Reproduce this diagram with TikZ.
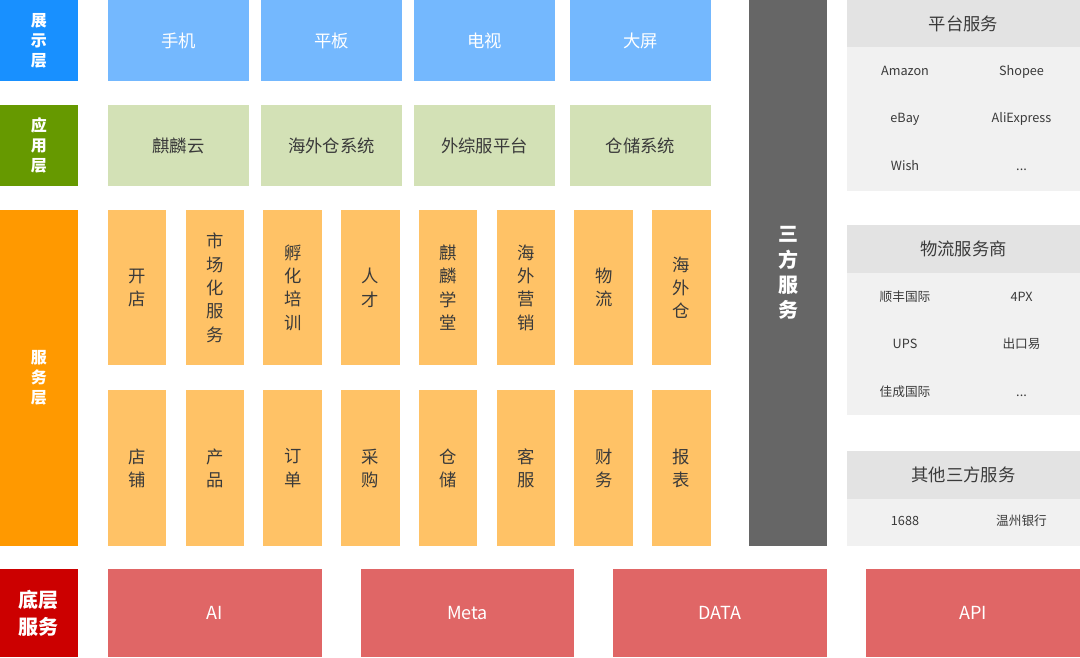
\documentclass[tikz,border=0pt]{standalone}
\usepackage{fontspec}
\setmainfont{Noto Sans CJK SC}
\usetikzlibrary{positioning}

\definecolor{showdark}{HTML}{1890FF}
\definecolor{showlight}{HTML}{74B8FE}
\definecolor{appdark}{HTML}{669900}
\definecolor{applight}{HTML}{D3E1B6}
\definecolor{svcdark}{HTML}{FF9900}
\definecolor{svclight}{HTML}{FFC266}
\definecolor{basedark}{HTML}{CC0000}
\definecolor{baselight}{HTML}{E06666}
\definecolor{thirdgray}{HTML}{666666}
\definecolor{panelhead}{HTML}{E3E3E3}
\definecolor{panelbody}{HTML}{F1F1F1}
\definecolor{txt}{HTML}{3A3A3A}

\begin{document}
\begin{tikzpicture}[
    x=0.75pt, y=-0.75pt,
    box/.style={rectangle, inner sep=0pt, outer sep=0pt, align=center},
    wh/.style 2 args={minimum width=#1*0.75pt, minimum height=#2*0.75pt},
    layer/.style={box, text=white, font=\bfseries\fontsize{12pt}{15pt}\selectfont},
    showbox/.style={box, fill=showlight, text=white, font=\fontsize{13pt}{16pt}\selectfont, wh={141}{81}},
    appbox/.style={box, fill=applight, text=txt, font=\fontsize{13pt}{16pt}\selectfont, wh={141}{81}},
    svcbox/.style={box, fill=svclight, text=txt, font=\fontsize{13pt}{17.5pt}\selectfont, wh={58.5}{155.5}},
    basebox/.style={box, fill=baselight, text=white, font=\fontsize{13.5pt}{16pt}\selectfont, wh={213.5}{88}},
    head/.style={box, fill=panelhead, text=txt, font=\fontsize{13pt}{16pt}\selectfont, minimum width=175pt, minimum height=35.5pt},
    item/.style={text=txt, inner sep=0pt, text height=7pt, text depth=2pt, font=\fontsize{9.5pt}{12pt}\selectfont}
]
\useasboundingbox (0,0) rectangle (1080,657);

% Layer labels
\node[layer, fill=showdark, wh={78}{81}] (lshow) at (39,40.5) {展\\示\\层};
\node[layer, fill=appdark, wh={78}{81}] (lapp) at (39,145.5) {应\\用\\层};
\node[layer, fill=svcdark, wh={78}{336}] (lsvc) at (39,378) {服\\务\\层};
\node[layer, fill=basedark, wh={77.5}{88}, font=\bfseries\fontsize{15pt}{20pt}\selectfont] (lbase) at (38.75,613) {底层\\服务};

% Display layer
\node[showbox] (phone) at (178.5,40.5) {手机};
\node[showbox] (tablet) at (331.5,40.5) {平板};
\node[showbox] (tv) at (484.5,40.5) {电视};
\node[showbox] (screen) at (640.5,40.5) {大屏};

% Application layer
\node[appbox] (qilin) at (178.5,145.5) {麒麟云};
\node[appbox] (owms) at (331.5,145.5) {海外仓系统};
\node[appbox] (wzf) at (484.5,145.5) {外综服平台};
\node[appbox] (wms) at (640.5,145.5) {仓储系统};

% Service layer
\foreach \t [count=\i from 0] in {开\\店, 市\\场\\化\\服\\务, 孵\\化\\培\\训, 人\\才, 麒\\麟\\学\\堂, 海\\外\\营\\销, 物\\流, 海\\外\\仓}
    \node[svcbox] (svctop\i) at (137.2+77.75*\i,287.7) {\t};
\foreach \t [count=\i from 0] in {店\\铺, 产\\品, 订\\单, 采\\购, 仓\\储, 客\\服, 财\\务, 报\\表}
    \node[svcbox] (svcbot\i) at (137.2+77.75*\i,468.2) {\t};

% Third-party column
\node[box, fill=thirdgray, text=white, wh={78}{546}, font=\bfseries\fontsize{15pt}{19pt}\selectfont] (third) at (788,273) {三\\方\\服\\务};

% Platform services
\node[head] (plathead) at (963.4,23.8) {平台服务};
\node[box, fill=panelbody, minimum width=175pt, minimum height=107.5pt, below=0pt of plathead] (platbody) {};
\node[item] (amazon) at (905,72) {Amazon};
\node[item] (shopee) at (1021.5,72) {Shopee};
\node[item] (ebay) at (905,119.5) {eBay};
\node[item] (aliexp) at (1021.5,119.5) {AliExpress};
\node[item] (wish) at (905,167) {Wish};
\node[item] (platmore) at (1021.5,167) {...};

% Logistics providers
\node[head] (loghead) at (963.4,249) {物流服务商};
\node[box, fill=panelbody, minimum width=175pt, minimum height=107pt, below=0pt of loghead] (logbody) {};
\node[item] (sf) at (905,298) {顺丰国际};
\node[item] (fourpx) at (1021.5,298) {4PX};
\node[item] (ups) at (905,345.5) {UPS};
\node[item] (cky) at (1021.5,345.5) {出口易};
\node[item] (jc) at (905,393) {佳成国际};
\node[item] (logmore) at (1021.5,393) {...};

% Other third-party services
\node[head] (othhead) at (963.4,475) {其他三方服务};
\node[box, fill=panelbody, minimum width=175pt, minimum height=35.5pt, below=0pt of othhead] (othbody) {};
\node[item] (alibaba) at (905,522.5) {1688};
\node[item] (wzbank) at (1021.5,522.5) {温州银行};

% Base services
\node[basebox] (ai) at (214.8,613) {AI};
\node[basebox] (meta) at (467.5,613) {Meta};
\node[basebox] (data) at (720.2,613) {DATA};
\node[basebox] (api) at (973,613) {API};

\end{tikzpicture}
\end{document}
